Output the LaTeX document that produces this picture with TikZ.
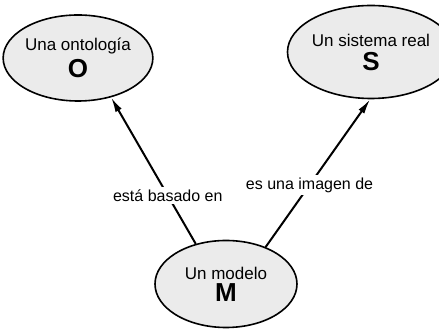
\documentclass[tikz,border=0pt]{standalone}
\usepackage{fontspec}
\setmainfont{Liberation Sans}
\usetikzlibrary{shapes.geometric}
\usepgflibrary{arrows.meta}

\begin{document}
\begin{tikzpicture}[x=1pt,y=1pt,
		concepto/.style={ellipse, draw, line width=1.6pt, fill=black!8, align=center, inner sep=0pt, font=\fontsize{17}{19}\selectfont},
		relacion/.style={line width=2pt, -{Latex[length=15pt,width=7pt]}},
		etiqueta/.style={fill=white, inner sep=3pt, font=\fontsize{16}{18}\selectfont}]

		\useasboundingbox (0,0) rectangle (439,329);

		\node [concepto, minimum width=140, minimum height=86] (O) at (78,271) {Una ontología\\[5pt]{\fontsize{26}{28}\selectfont\bfseries O}};
		\node [concepto, minimum width=136, minimum height=93] (S) at (371,277) {Un sistema real\\[5pt]{\fontsize{26}{28}\selectfont\bfseries S}};
		\node [concepto, minimum width=142, minimum height=87] (M) at (226,45) {Un modelo\\[3pt]{\fontsize{26}{28}\selectfont\bfseries M}};

		\draw [relacion] (M.127) -- node[etiqueta, pos=0.33] (basado) {está basado en} (O.-50);
		\draw [relacion] (M.43) -- node[etiqueta, pos=0.42] (imagen) {es una imagen de} (S.-91);

	\end{tikzpicture}
\end{document}
